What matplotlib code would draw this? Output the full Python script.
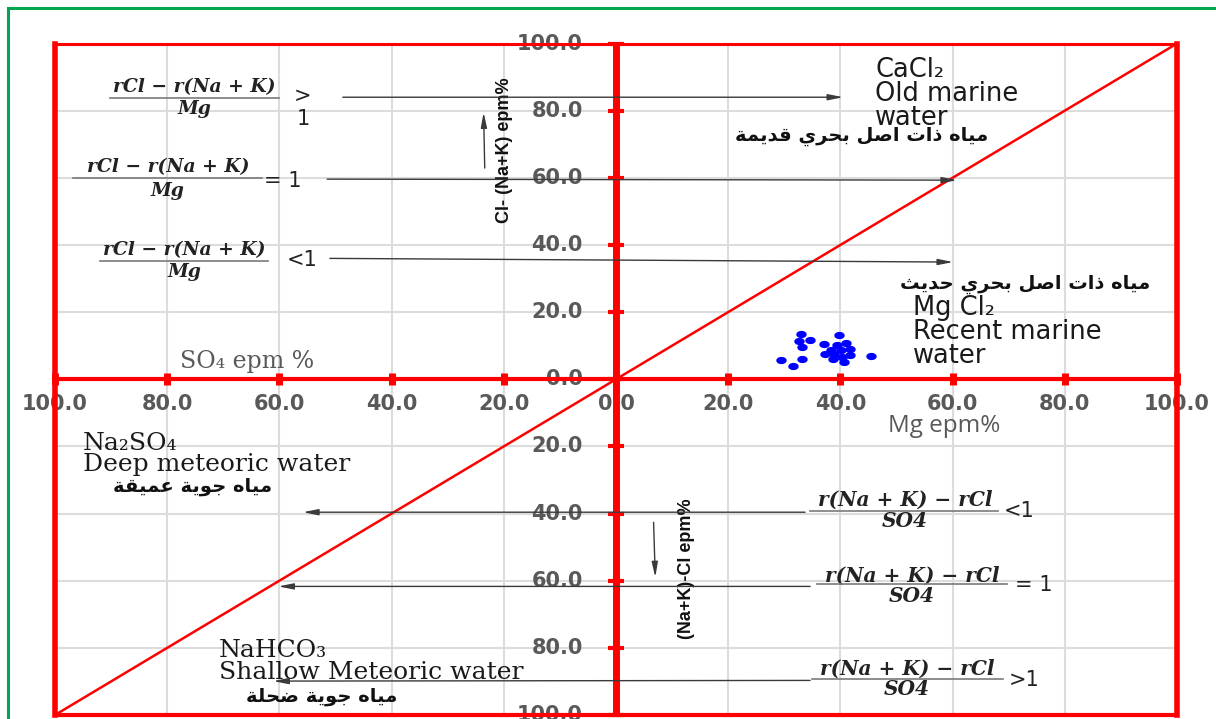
import numpy as np
import matplotlib
matplotlib.use("Agg")
import matplotlib.pyplot as plt
from matplotlib.patches import Rectangle
from matplotlib.ticker import FuncFormatter, MultipleLocator

# ---------------------------------------------------------------- data
# Sample points: Mg epm% (x) against Cl-(Na+K) epm% (y)
mg_epm = [33.0, 32.7, 34.5, 33.1, 29.5, 31.6, 33.2, 39.8, 37.1, 38.3, 39.4,
          41.0, 41.7, 37.3, 38.9, 40.1, 40.2, 41.7, 38.7, 40.6, 45.5]
cl_nak_epm = [13.4, 11.4, 11.8, 9.5, 5.7, 4.0, 6.0, 13.3, 10.4, 8.8, 10.1,
              10.8, 8.9, 7.4, 7.4, 8.6, 6.6, 7.1, 6.0, 5.2, 6.9]

tick_values = [-100, -80, -60, -40, -20, 0, 20, 40, 60, 80, 100]

zone_labels = ["CaCl₂\nOld marine\nwater",
               "Mg Cl₂\nRecent marine\nwater",
               "Na₂SO₄\nDeep meteoric water",
               "NaHCO₃\nShallow Meteoric water"]
arabic_labels = ["مياه ذات اصل بحري قديمة",
                 "مياه ذات اصل بحري حديث",
                 "مياه جوية عميقة",
                 "مياه جوية ضحلة"]
upper_ratio = "rCl − r(Na + K)"
upper_denom = "Mg"
lower_ratio = "r(Na + K) − rCl"
lower_denom = "SO4"
upper_relations = [">\n1", "= 1", "<1"]
lower_relations = ["<1", "= 1", ">1"]

# ------------------------------------------------ arabic shaping helpers
_FORMS = {  # isolated, final, initial, medial
    'ا': (0xFE8D, 0xFE8E, None, None), 'ب': (0xFE8F, 0xFE90, 0xFE91, 0xFE92),
    'ة': (0xFE93, 0xFE94, None, None), 'ت': (0xFE95, 0xFE96, 0xFE97, 0xFE98),
    'ث': (0xFE99, 0xFE9A, 0xFE9B, 0xFE9C), 'ج': (0xFE9D, 0xFE9E, 0xFE9F, 0xFEA0),
    'ح': (0xFEA1, 0xFEA2, 0xFEA3, 0xFEA4), 'د': (0xFEA9, 0xFEAA, None, None),
    'ذ': (0xFEAB, 0xFEAC, None, None), 'ر': (0xFEAD, 0xFEAE, None, None),
    'ص': (0xFEB9, 0xFEBA, 0xFEBB, 0xFEBC), 'ض': (0xFEBD, 0xFEBE, 0xFEBF, 0xFEC0),
    'ع': (0xFEC9, 0xFECA, 0xFECB, 0xFECC), 'ق': (0xFED5, 0xFED6, 0xFED7, 0xFED8),
    'ل': (0xFEDD, 0xFEDE, 0xFEDF, 0xFEE0), 'م': (0xFEE1, 0xFEE2, 0xFEE3, 0xFEE4),
    'ه': (0xFEE9, 0xFEEA, 0xFEEB, 0xFEEC), 'و': (0xFEED, 0xFEEE, None, None),
    'ي': (0xFEF1, 0xFEF2, 0xFEF3, 0xFEF4),
}


def shape_arabic(text):
    out = []
    for i, ch in enumerate(text):
        if ch not in _FORMS:
            out.append(ch)
            continue
        prev = text[i - 1] if i > 0 else ''
        nxt = text[i + 1] if i + 1 < len(text) else ''
        joins_prev = prev in _FORMS and _FORMS[prev][2] is not None
        joins_next = nxt in _FORMS and _FORMS[ch][2] is not None
        iso, fin, ini, med = _FORMS[ch]
        if joins_prev and joins_next:
            code = med
        elif joins_prev:
            code = fin
        elif joins_next:
            code = ini
        else:
            code = iso
        out.append(chr(code))
    return ''.join(reversed(out))


# ---------------------------------------------------------------- figure
RED = '#ff0000'
GRAY = '#595959'
ARROW = '#3a3a3a'

fig = plt.figure(figsize=(12.16, 7.19), dpi=100)
ax = fig.add_axes([55 / 1216, 4 / 719, 1122 / 1216, 671.5 / 719])
ax.set_xlim(-100, 100)
ax.set_ylim(-100, 100)

# outer frame
for side in ('left', 'right', 'top', 'bottom'):
    ax.spines[side].set_visible(False)
ax.plot([-100, -100], [-100, 100], color=RED, lw=4, zorder=3, clip_on=False)
ax.plot([100, 100], [-100, 100], color=RED, lw=4, zorder=3, clip_on=False)
ax.plot([-100, 100], [100, 100], color=RED, lw=2.2, zorder=3, clip_on=False)
ax.plot([-100, 100], [-100, -100], color=RED, lw=3, zorder=3, clip_on=False)

# light grid
ax.xaxis.set_major_locator(MultipleLocator(20))
ax.yaxis.set_major_locator(MultipleLocator(20))
ax.grid(True, color='#dcdcdc', lw=1.5, zorder=0)
ax.set_axisbelow(True)
ax.tick_params(length=0)
ax.set_xticklabels([])
ax.set_yticklabels([])

# central axes with crossing ticks
ax.axvline(0, color=RED, lw=5, zorder=3)
ax.axhline(0, color=RED, lw=3, zorder=3)
fmt = FuncFormatter(lambda v, p: f"{abs(v):.1f}")
for v in tick_values:
    ax.plot([v], [0], marker='|', ms=9, mew=5, color=RED, zorder=4, clip_on=False)
    ax.plot([0], [v], marker='_', ms=11, mew=3, color=RED, zorder=4, clip_on=False)
    ax.annotate(fmt(v), xy=(v, 0), xytext=(0, -25), textcoords='offset pixels',
                ha='center', va='center', fontsize=15, fontweight='bold',
                color=GRAY, family='DejaVu Sans', zorder=2)
    ax.annotate(fmt(v), xy=(0, v), xytext=(-33, 0), textcoords='offset pixels',
                ha='right', va='center', fontsize=15, fontweight='bold',
                color=GRAY, family='DejaVu Sans', zorder=2)

# 1:1 dividing line
ax.plot([-100, 100], [-100, 100], color=RED, lw=1.8, zorder=3)

# samples
t = np.linspace(0, 2 * np.pi, 40)
ellipse = np.column_stack([1.55 * np.cos(t), np.sin(t)])
ax.plot(mg_epm, cl_nak_epm, linestyle='none', marker=ellipse, ms=6.5,
        color='#0000ff', zorder=5)

# ------------------------------------------------------ annotations
arrow_kw = dict(arrowstyle='-|>,head_length=0.9,head_width=0.18',
                color=ARROW, lw=1.0, shrinkA=0, shrinkB=0)


def arrow(x0, y0, x1, y1):
    ax.annotate('', xy=(x1, y1), xytext=(x0, y0), arrowprops=arrow_kw, zorder=4)


def fraction(cx, y_num, y_bar, x0, x1, y_den, num, den, rel, rx, ry, size):
    fkw = dict(ha='center', va='center', fontsize=size, fontweight='bold',
               fontstyle='italic', family='DejaVu Serif', color='#222222')
    ax.text(cx, y_num, num, **fkw)
    ax.text(cx, y_den, den, **fkw)
    ax.plot([x0, x1], [y_bar, y_bar], color='#7a7a7a', lw=1.2, zorder=4)
    ax.text(rx, ry, rel, ha='center', va='center', fontsize=15,
            family='DejaVu Sans', color='#222222', linespacing=1.15)


# upper-left ratios and their arrows
fraction(-75.2, 87.0, 83.7, -90.2, -60.1, 80.4, upper_ratio, upper_denom,
         upper_relations[0], -55.8, 80.9, 13.5)
fraction(-79.9, 63.2, 59.9, -96.8, -63.1, 56.0, upper_ratio, upper_denom,
         upper_relations[1], -59.4, 59.0, 13.5)
fraction(-77.0, 38.6, 35.3, -92.0, -62.0, 31.9, upper_ratio, upper_denom,
         upper_relations[2], -56.0, 35.4, 13.5)
arrow(-48.7, 84.0, 40.5, 84.0)
arrow(-51.5, 59.6, 60.8, 59.3)
arrow(-51.0, 36.0, 60.1, 34.9)

# lower-right ratios and their arrows
fraction(51.5, -36.0, -39.3, 34.6, 68.1, -42.3, lower_ratio, lower_denom,
         lower_relations[0], 71.8, -39.3, 14.5)
fraction(52.8, -58.4, -61.0, 35.8, 69.7, -64.6, lower_ratio, lower_denom,
         lower_relations[1], 74.5, -61.3, 14.5)
fraction(51.9, -86.1, -89.3, 34.9, 69.0, -92.2, lower_ratio, lower_denom,
         lower_relations[2], 72.7, -89.7, 14.5)
arrow(33.7, -39.6, -55.8, -39.6)
arrow(34.6, -61.7, -60.2, -61.7)
arrow(34.6, -89.7, -61.1, -89.9)

# direction arrows next to the axis titles
arrow(-23.4, 62.9, -23.6, 79.5)
arrow(6.7, -42.6, 7.0, -59.0)

# axis titles
title_kw = dict(rotation=90, ha='center', va='center', fontsize=13,
                fontweight='bold',
                family=['Liberation Sans Narrow', 'Liberation Sans'],
                color='#111111')
ax.text(-19.8, 68.2, "Cl- (Na+K) epm%", **title_kw)
ax.text(12.5, -56.3, "(Na+K)-Cl epm%", **title_kw)
ax.text(-77.7, 5.4, "SO₄ epm %", ha='left', va='center', fontsize=17,
        family='DejaVu Serif', color=GRAY)
ax.text(48.5, -13.9, "Mg epm%", ha='left', va='center', fontsize=17.5,
        family='Open Sans', color=GRAY)

# water-type zones
sans_kw = dict(ha='left', va='center', fontsize=18.5, family='DejaVu Sans',
               color='#1a1a1a', linespacing=0.9)
serif_kw = dict(ha='left', va='center', fontsize=18, family='DejaVu Serif',
                color='#1a1a1a', linespacing=0.92)
ax.text(46.2, 84.9, zone_labels[0], **sans_kw)
ax.text(52.9, 14.0, zone_labels[1], **sans_kw)
ax.text(-95.0, -22.3, zone_labels[2], **serif_kw)
ax.text(-70.8, -84.0, zone_labels[3], **serif_kw)

ar_kw = dict(ha='right', va='center', fontsize=14, fontweight='bold',
             family='DejaVu Sans', color='#111111')
ax.text(66.3, 72.2, shape_arabic(arabic_labels[0]), **ar_kw)
ax.text(95.2, 28.2, shape_arabic(arabic_labels[1]), **ar_kw)
ax.text(-61.3, -31.9, shape_arabic(arabic_labels[2]), **ar_kw)
ax.text(-39.0, -94.5, shape_arabic(arabic_labels[3]), **ar_kw)

# page border
fig.add_artist(Rectangle((8 / 1216, -0.05), 1.2, 1.05 - 8 / 719,
                         transform=fig.transFigure, fill=False,
                         edgecolor='#00a650', lw=2.2))

fig.savefig("out.png", dpi=100)
